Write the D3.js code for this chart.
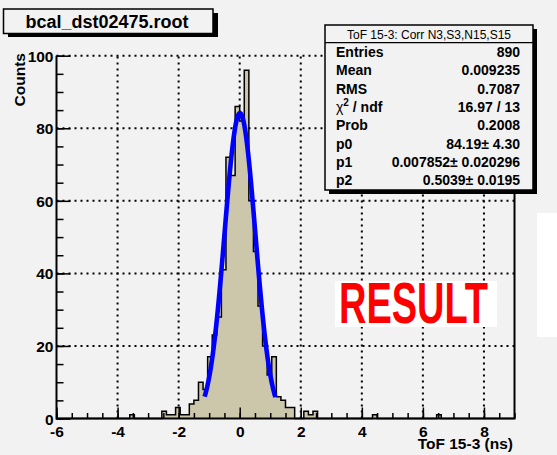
<!DOCTYPE html>
<html>
<head>
<meta charset="utf-8">
<script src="https://cdn.jsdelivr.net/npm/d3@7/dist/d3.min.js"></script>
<style>
  body { margin: 0; background: #f2f2f2; }
  svg { display: block; }
  text { font-family: "Liberation Sans", Arial, Helvetica, sans-serif; }
</style>
</head>
<body>
<div id="chart"></div>
<script>
// histogram ToF 15-3, 100 bins of 0.15 ns between -6 and 9
const histRange = [-6, 9];
const binWidth = 0.15;
// low edge of every non-empty bin, and its content
const binLowEdges = [-3.60, -2.55, -2.40, -2.25, -2.10, -1.95, -1.80, -1.65, -1.50, -1.35,
                     -1.20, -1.05, -0.90, -0.75, -0.60, -0.45, -0.30, -0.15, 0.00, 0.15,
                     0.30, 0.45, 0.60, 0.75, 0.90, 1.05, 1.20, 1.35, 1.50, 1.65,
                     2.10, 2.25, 2.40, 4.35, 6.45];
const binCounts =   [1, 2, 1, 1, 3, 1, 1, 4, 5, 10,
                     8, 17, 23, 28, 41, 72, 67, 86, 82, 96,
                     60, 46, 31, 20, 12, 17, 6, 5, 3, 3,
                     2, 1, 2, 1, 1];

// gaus fit parameters (from the stats box)
const fitParams = {p0: 84.19, p1: 0.007852, p2: 0.5039};
const fitRange = [-1.15, 1.17];

const xTicks = [-6, -4, -2, 0, 2, 4, 6, 8];
const yTicks = [0, 20, 40, 60, 80, 100];

const statsRows = [
    ["Entries", "890"],
    ["Mean", "0.009235"],
    ["RMS", "0.7087"],
    ["chi2", "16.97 / 13"],
    ["Prob", "0.2008"],
    ["p0", "84.19\u00b1 4.30"],
    ["p1", "0.007852\u00b1 0.020296"],
    ["p2", "0.5039\u00b1 0.0195"]
];

const width = 557, height = 455;
const frame = {left: 56.5, right: 514.5, top: 55.7, bottom: 418.5};

const svg = d3.select("#chart").append("svg")
    .attr("width", width)
    .attr("height", height);

svg.append("rect")
    .attr("width", width).attr("height", height)
    .attr("fill", "#f2f2f2");

// white patch on the right edge
svg.append("rect")
    .attr("x", 537).attr("y", 213).attr("width", 20).attr("height", 124)
    .attr("fill", "#ffffff");

const x = d3.scaleLinear().domain(histRange).range([frame.left, frame.right]);
const y = d3.scaleLinear().domain([0, 100]).range([frame.bottom, frame.top]);

// grid (dotted) under the histogram
const grid = svg.append("g").attr("class", "grid")
    .attr("stroke", "#000").attr("stroke-width", 2).attr("stroke-dasharray", "2,4");
grid.selectAll(".gx")
    .data(xTicks.filter(t => t > histRange[0]))
    .join("line")
    .attr("x1", d => x(d)).attr("x2", d => x(d))
    .attr("y1", frame.bottom).attr("y2", frame.top);
grid.selectAll(".gy")
    .data(yTicks.filter(t => t > 0))
    .join("line")
    .attr("y1", d => y(d)).attr("y2", d => y(d))
    .attr("x1", frame.left).attr("x2", frame.right);

// fill the full bin table from the non-empty bins
const nBins = Math.round((histRange[1] - histRange[0]) / binWidth);
const bins = d3.range(nBins).map(i => ({lo: histRange[0] + i * binWidth, count: 0}));
binLowEdges.forEach((lo, j) => {
    const i = Math.round((lo - histRange[0]) / binWidth);
    bins[i].count = binCounts[j];
});

const histPts = [[histRange[0], 0]];
bins.forEach(b => {
    histPts.push([b.lo, b.count]);
    histPts.push([b.lo + binWidth, b.count]);
});
histPts.push([histRange[1], 0]);

const histLine = d3.line().x(d => x(d[0])).y(d => y(d[1]));

svg.append("path")
    .attr("d", histLine(histPts))
    .attr("fill", "#ccc6aa")
    .attr("stroke", "#000")
    .attr("stroke-width", 1.5)
    .attr("stroke-linejoin", "miter");

// fit curve
const gaus = v => fitParams.p0 * Math.exp(-0.5 * Math.pow((v - fitParams.p1) / fitParams.p2, 2));
const fitPts = d3.range(fitRange[0], fitRange[1] + 0.0001, 0.01).map(v => [v, gaus(v)]);
svg.append("path")
    .attr("d", d3.line().x(d => x(d[0])).y(d => y(d[1]))(fitPts))
    .attr("fill", "none")
    .attr("stroke", "#0000ff")
    .attr("stroke-width", 4.6)
    .attr("stroke-linejoin", "round");

// axes: minor ticks (no labels) and major ticks (labels)
const xMinorG = svg.append("g").attr("transform", "translate(0," + frame.bottom + ")")
    .call(d3.axisBottom(x).tickValues(d3.range(-6, 9.01, 0.5)).tickSize(-5.5).tickFormat(""));
const xMajorG = svg.append("g").attr("transform", "translate(0," + frame.bottom + ")")
    .call(d3.axisBottom(x).tickValues(xTicks).tickSize(-11).tickFormat(d => d < 0 ? "-" + Math.abs(d) : d));
[xMinorG, xMajorG].forEach(g => {
    g.select(".domain").remove();
    g.selectAll("line").attr("stroke", "#000").attr("stroke-width", 1.5);
});
xMinorG.selectAll("text").remove();
xMajorG.selectAll("text")
    .attr("y", 18).attr("dy", 0)
    .attr("fill", "#000")
    .attr("font-size", 15.5).attr("font-weight", "bold")
    .attr("font-family", "Liberation Sans, Arial, sans-serif");

const yMinorG = svg.append("g").attr("transform", "translate(" + frame.left + ",0)")
    .call(d3.axisLeft(y).tickValues(d3.range(0, 100.01, 5)).tickSize(-7).tickFormat(""));
const yMajorG = svg.append("g").attr("transform", "translate(" + frame.left + ",0)")
    .call(d3.axisLeft(y).tickValues(yTicks).tickSize(-14).tickFormat(d3.format("d")));
[yMinorG, yMajorG].forEach(g => {
    g.select(".domain").remove();
    g.selectAll("line").attr("stroke", "#000").attr("stroke-width", 1.5);
});
yMinorG.selectAll("text").remove();
yMajorG.selectAll("text")
    .attr("x", -3).attr("dy", "0.36em")
    .attr("fill", "#000")
    .attr("font-size", 15.5).attr("font-weight", "bold")
    .attr("font-family", "Liberation Sans, Arial, sans-serif");

// frame lines: left, bottom, right
svg.append("path")
    .attr("d", "M" + frame.left + "," + frame.top + "V" + frame.bottom + "H" + frame.right + "V" + frame.top)
    .attr("fill", "none").attr("stroke", "#000").attr("stroke-width", 2);

// axis titles
svg.append("text")
    .attr("x", 513).attr("y", 449)
    .attr("text-anchor", "end")
    .attr("font-size", 15.5).attr("font-weight", "bold")
    .text("ToF 15-3 (ns)");

svg.append("text")
    .attr("transform", "translate(25,53) rotate(-90)")
    .attr("text-anchor", "end")
    .attr("font-size", 15.5).attr("font-weight", "bold")
    .text("Counts");

// title box
const titleG = svg.append("g");
titleG.append("rect").attr("x", 8).attr("y", 13).attr("width", 210).attr("height", 24).attr("fill", "#000");
titleG.append("rect").attr("x", 3.5).attr("y", 9).attr("width", 209.5).attr("height", 24.5)
    .attr("fill", "#f2f2f2").attr("stroke", "#000").attr("stroke-width", 1.5);
titleG.append("text")
    .attr("x", 107).attr("y", 27.5)
    .attr("text-anchor", "middle")
    .attr("font-size", 18).attr("font-weight", "bold")
    .text("bcal_dst02475.root");

// stats box
const stats = {x: 325, y: 25, w: 208, h: 165};
const statsG = svg.append("g");
statsG.append("rect").attr("x", stats.x + 4).attr("y", stats.y + 4)
    .attr("width", stats.w).attr("height", stats.h).attr("fill", "#000");
statsG.append("rect").attr("x", stats.x).attr("y", stats.y)
    .attr("width", stats.w).attr("height", stats.h)
    .attr("fill", "#f2f2f2").attr("stroke", "#000").attr("stroke-width", 1.5);
statsG.append("line")
    .attr("x1", stats.x).attr("x2", stats.x + stats.w)
    .attr("y1", 42.7).attr("y2", 42.7)
    .attr("stroke", "#000").attr("stroke-width", 1.2);
statsG.append("text")
    .attr("x", stats.x + stats.w / 2).attr("y", 38.5)
    .attr("text-anchor", "middle")
    .attr("font-size", 12)
    .text("ToF 15-3: Corr N3,S3,N15,S15");

statsRows.forEach((row, i) => {
    const by = 57 + i * 18.3;
    const lab = statsG.append("text")
        .attr("x", 336).attr("y", by)
        .attr("font-size", 14).attr("font-weight", "bold");
    if (row[0] === "chi2") {
        lab.append("tspan").attr("font-weight", "normal").text("\u03c7");
        lab.append("tspan").attr("dy", -6).attr("font-size", 10).text("2");
        lab.append("tspan").attr("dy", 6).text(" / ndf");
    } else {
        lab.text(row[0]);
    }
    statsG.append("text")
        .attr("x", 520).attr("y", by)
        .attr("text-anchor", "end")
        .attr("font-size", 14).attr("font-weight", "bold")
        .text(row[1]);
});

// RESULT stamp
svg.append("rect")
    .attr("x", 335).attr("y", 281).attr("width", 162).attr("height", 46)
    .attr("fill", "#ffffff");
svg.append("text")
    .attr("x", 339).attr("y", 323)
    .attr("font-size", 57).attr("font-weight", "bold")
    .attr("fill", "#ff0000")
    .attr("textLength", 149).attr("lengthAdjust", "spacingAndGlyphs")
    .text("RESULT");
</script>
</body>
</html>
